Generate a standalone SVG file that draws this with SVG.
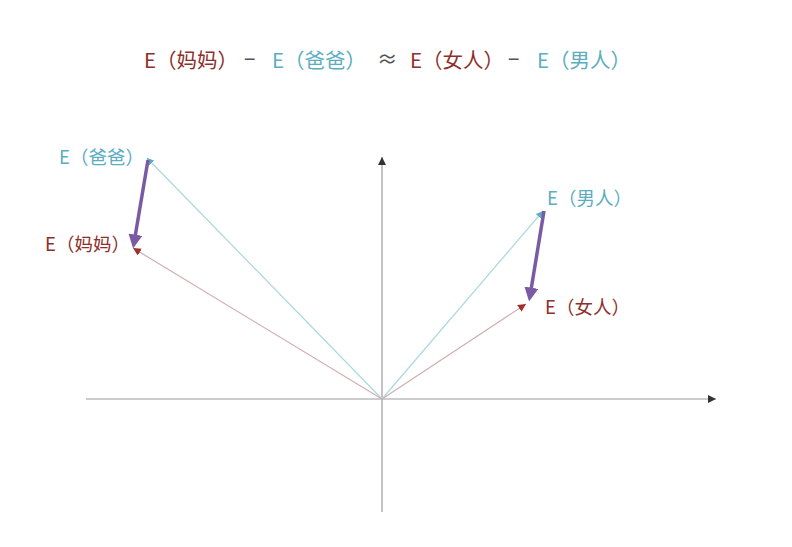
<svg xmlns="http://www.w3.org/2000/svg" width="792" height="547" viewBox="0 0 792 547">
<defs>
<style>
text{font-family:"Noto Sans CJK SC","Noto Sans",sans-serif;font-size:20.5px}
.lbl{font-size:18.5px}
.r{fill:#8e2f2c}
.b{fill:#5badc0}
.g{fill:#555}
.axis{stroke:#9a9a9a;stroke-width:1.2;fill:none}
.vb{stroke:#a9d8de;stroke-width:1.2;fill:none}
.vr{stroke:#d2aeb0;stroke-width:1.2;fill:none}
.diff{stroke:#7a5ba3;stroke-width:3.5;fill:none}
</style>
<marker id="ma" viewBox="0 0 10 10" refX="10" refY="5" markerWidth="8" markerHeight="8" markerUnits="userSpaceOnUse" orient="auto"><path d="M0,0L10,5L0,10z" fill="#333"/></marker>
<marker id="mb" viewBox="0 0 10 10" refX="10" refY="5" markerWidth="7" markerHeight="7" markerUnits="userSpaceOnUse" orient="auto"><path d="M0,0L10,5L0,10z" fill="#5badc0"/></marker>
<marker id="mr" viewBox="0 0 10 10" refX="10" refY="5" markerWidth="8" markerHeight="8" markerUnits="userSpaceOnUse" orient="auto"><path d="M0,0L10,5L0,10z" fill="#a0302c"/></marker>
<marker id="mp" viewBox="0 0 10 10" refX="6" refY="5" markerWidth="4" markerHeight="4" orient="auto"><path d="M0,0L10,5L0,10z" fill="#7a5ba3"/></marker>
</defs>
<g id="title">
<text x="144" y="68" class="r">E（妈妈）</text>
<text x="244" y="67" class="g" font-size="19">−</text>
<text x="272" y="68" class="b">E（爸爸）</text>
<text x="377" y="67" class="g" font-size="14">≈</text>
<text x="410" y="68" class="r">E（女人）</text>
<text x="508" y="67" class="g" font-size="19">−</text>
<text x="537" y="68" class="b">E（男人）</text>
</g>
<g id="axes">
<line class="axis" x1="86" y1="399" x2="716" y2="399" marker-end="url(#ma)"/>
<line class="axis" x1="382" y1="512" x2="382" y2="157" marker-end="url(#ma)"/>
</g>
<g id="connectors">
<line class="vb" x1="382" y1="399" x2="147" y2="158" marker-end="url(#mb)"/>
<line class="vr" x1="382" y1="399" x2="133" y2="248" marker-end="url(#mr)"/>
<line class="vb" x1="382" y1="399" x2="543" y2="211" marker-end="url(#mb)"/>
<line class="vr" x1="382" y1="399" x2="526" y2="304" marker-end="url(#mr)"/>
<line class="diff" x1="148" y1="160" x2="134" y2="243" marker-end="url(#mp)"/>
<line class="diff" x1="544" y1="211" x2="530" y2="296" marker-end="url(#mp)"/>
</g>
<g id="n-baba"><text x="59" y="164" class="b lbl">E（爸爸）</text></g>
<g id="n-mama"><text x="45" y="251" class="r lbl">E（妈妈）</text></g>
<g id="n-nanren"><text x="547" y="205" class="b lbl">E（男人）</text></g>
<g id="n-nvren"><text x="545" y="314" class="r lbl">E（女人）</text></g>
</svg>
